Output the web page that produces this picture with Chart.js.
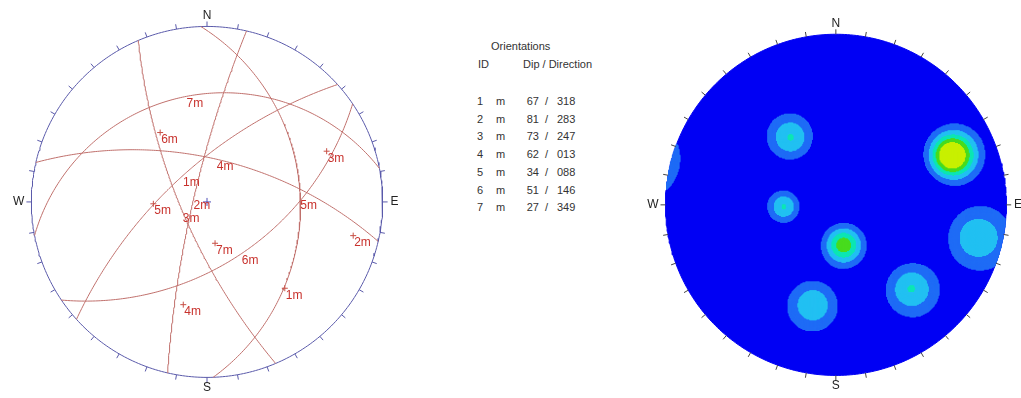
<!DOCTYPE html>
<html>
<head>
<meta charset="utf-8">
<script src="https://cdn.jsdelivr.net/npm/chart.js@4.4.0/dist/chart.umd.min.js"></script>
<style>
body { margin:0; background:#fff; width:1021px; height:398px; overflow:hidden; font-family:"Liberation Sans", Arial, sans-serif; }
#left { position:absolute; left:0; top:0; }
#right { position:absolute; left:640px; top:0; }
#table { position:absolute; left:0; top:0; color:#333; font-size:11px; }
#table div { position:absolute; white-space:nowrap; line-height:14px; height:14px; }
</style>
</head>
<body>
<canvas id="left" width="415" height="398"></canvas>
<div id="table"></div>
<canvas id="right" width="381" height="398"></canvas>
<script>
// Orientation sets (table)
var setIds = [1, 2, 3, 4, 5, 6, 7];
var setTypes = ['m', 'm', 'm', 'm', 'm', 'm', 'm'];
var dips = [67, 81, 73, 62, 34, 51, 27];
var dipDirs = [318, 283, 247, 13, 88, 146, 349];
// pole concentrations: peak density and spread (deg)
var poleDensity = [3.05, 2.9, 7.07, 2.9, 3.05, 3.05, 4.6];
var poleSpread = [8.2, 8.3, 6.6, 8.3, 6.4, 8.2, 8.1];
var contourLevels = [1, 2, 3, 4, 5];
var contourColors = ['#1f6cf6', '#22c0f2', '#0ce6b4', '#48dc1e', '#c8f000'];
var compass = ['N', 'E', 'S', 'W'];
var tickAngles = [];
for (var a = 0; a < 360; a += 10) tickAngles.push(a);

function rad(d) { return d * Math.PI / 180; }
function lineVec(trend, plunge) {
    return [Math.sin(rad(trend)) * Math.cos(rad(plunge)), Math.cos(rad(trend)) * Math.cos(rad(plunge)), Math.sin(rad(plunge))];
}
// lower hemisphere, equal angle
function project(v) {
    var s = v[2] < 0 ? -1 : 1;
    return { x: s * v[0] / (1 + s * v[2]), y: s * v[1] / (1 + s * v[2]) };
}
function greatCircle(dip, dir) {
    var pts = [];
    var st = [Math.sin(rad(dir - 90)), Math.cos(rad(dir - 90)), 0];
    var d = lineVec(dir, dip);
    for (var t = 0; t <= 180; t += 1) {
        var c = Math.cos(rad(t)), sn = Math.sin(rad(t));
        pts.push(project([c * st[0] + sn * d[0], c * st[1] + sn * d[1], c * st[2] + sn * d[2]]));
    }
    return pts;
}
function circlePts(r) {
    var pts = [];
    for (var a = 0; a <= 360; a += 1) pts.push({ x: r * Math.sin(rad(a)), y: r * Math.cos(rad(a)) });
    return pts;
}
function tickPts(R) {
    // tick is 5px long, starting at the primitive circle
    var r = 1 + 2.5 / R;
    return tickAngles.map(function (a) { return { x: r * Math.sin(rad(a)), y: r * Math.cos(rad(a)) }; });
}
function compassTexts(R, off) {
    return compass.map(function (c, i) {
        var a = i * 90, r = 1 + off[i] / R;
        return { x: r * Math.sin(rad(a)), y: r * Math.cos(rad(a)), text: c, color: '#222', align: 'center', dy: 0 };
    });
}

var poles = dips.map(function (d, i) { return project(lineVec(dipDirs[i] + 180, 90 - d)); });
var dipPts = dips.map(function (d, i) { return project(lineVec(dipDirs[i], d)); });

// text plugin: draws labels at data coordinates
var textPlugin = {
    id: 'texts',
    afterDatasetsDraw: function (chart, args, opts) {
        var ctx = chart.ctx;
        var sx = chart.scales.x, sy = chart.scales.y;
        ctx.save();
        ctx.font = opts.font;
        ctx.textBaseline = 'middle';
        (opts.items || []).forEach(function (t) {
            ctx.fillStyle = t.color;
            ctx.textAlign = t.align;
            ctx.fillText(t.text, sx.getPixelForValue(t.x) + (t.dx || 0), sy.getPixelForValue(t.y) + (t.dy || 0));
        });
        ctx.restore();
    }
};

// ---------------- left: great circles ----------------
var RL = 180;
var leftDatasets = [];
leftDatasets.push({ data: circlePts(1), showLine: true, borderColor: '#5a5aaa', borderWidth: 1, pointRadius: 0, order: 3 });
leftDatasets.push({ data: tickPts(RL), pointStyle: 'line', pointRadius: 2.5, pointBorderColor: '#5a5aaa', pointBorderWidth: 1,
    pointRotation: tickAngles.map(function (a) { return a - 90; }), order: 3 });
dips.forEach(function (d, i) {
    leftDatasets.push({ data: greatCircle(d, dipDirs[i]), showLine: true, borderColor: 'rgb(192,112,108)', borderWidth: 1, pointRadius: 0, order: 2 });
});
leftDatasets.push({ data: poles, pointStyle: 'cross', pointRadius: 3, pointBorderColor: 'rgb(200,80,70)', pointBorderWidth: 1, order: 1 });
leftDatasets.push({ data: [{ x: 0, y: 0 }], pointStyle: 'cross', pointRadius: 4, pointBorderColor: '#5050b8', pointBorderWidth: 1, order: 1 });

var leftTexts = compassTexts(RL, [11, 12, 11, 13]);
setIds.forEach(function (id, i) {
    var lbl = id + setTypes[i];
    leftTexts.push({ x: poles[i].x, y: poles[i].y, text: lbl, color: '#c8322d', align: 'left', dx: 1, dy: 7 });
    leftTexts.push({ x: dipPts[i].x, y: dipPts[i].y, text: lbl, color: '#c8322d', align: 'left', dx: 0, dy: 7 });
});

var baseOptions = function (R, cx, cy, w, h, texts) {
    return {
        responsive: false,
        animation: false,
        devicePixelRatio: 1,
        events: [],
        layout: { padding: 0 },
        scales: {
            x: { type: 'linear', display: false, min: -cx / R, max: (w - cx) / R },
            y: { type: 'linear', display: false, min: (cy - h) / R, max: cy / R }
        },
        plugins: {
            legend: { display: false },
            tooltip: { enabled: false },
            texts: { font: '12px "Liberation Sans", Arial, sans-serif', items: texts }
        }
    };
};

new Chart(document.getElementById('left'), {
    type: 'scatter',
    data: { datasets: leftDatasets },
    options: baseOptions(RL, 207, 202, 415, 398, leftTexts),
    plugins: [textPlugin]
});

// ---------------- table ----------------
var table = document.getElementById('table');
function addText(txt, left, cy, width, align) {
    var el = document.createElement('div');
    el.textContent = txt;
    el.style.left = left + 'px';
    el.style.top = (cy - 7) + 'px';
    if (width) { el.style.width = width + 'px'; el.style.textAlign = align; }
    table.appendChild(el);
}
addText('Orientations', 491, 46);
addText('ID', 478, 64);
addText('Dip / Direction', 523, 64);
setIds.forEach(function (id, i) {
    var cy = 101 + i * 17.7;
    addText(String(id), 463, cy, 20, 'right');
    addText(setTypes[i], 496, cy);
    addText(String(dips[i]), 519, cy, 20, 'right');
    addText('/', 545, cy);
    addText(('00' + dipDirs[i]).slice(-3), 557, cy);
});

// ---------------- right: pole density contours ----------------
var RR = 175;
var poleVecs = dips.map(function (d, i) { return lineVec(dipDirs[i] + 180, 90 - d); });
var cells = contourLevels.map(function () { return []; });
for (var ix = -RR; ix < RR; ix++) {
    for (var iy = -RR; iy < RR; iy++) {
        var gx = (ix + 0.5) / RR, gy = (iy + 0.5) / RR;
        var r2 = gx * gx + gy * gy;
        if (r2 > 1) continue;
        var v = [2 * gx / (1 + r2), 2 * gy / (1 + r2), (1 - r2) / (1 + r2)];
        var dens = 0;
        for (var i = 0; i < poleVecs.length; i++) {
            var p = poleVecs[i];
            var c = Math.min(1, Math.abs(v[0] * p[0] + v[1] * p[1] + v[2] * p[2]));
            var phi = Math.acos(c), sg = rad(poleSpread[i]);
            dens += poleDensity[i] * Math.exp(-phi * phi / (2 * sg * sg));
        }
        var lev = 0;
        contourLevels.forEach(function (L) { if (dens >= L) lev++; });
        if (lev > 0) cells[lev - 1].push({ x: gx, y: gy });
    }
}

var rightDatasets = [];
rightDatasets.push({ data: circlePts(1), showLine: true, fill: 'shape', backgroundColor: '#0000f4', borderColor: '#0000f4', borderWidth: 1, pointRadius: 0, order: 10 });
cells.forEach(function (pts, i) {
    rightDatasets.push({ data: pts, pointStyle: 'rect', pointRadius: 1.25, pointBorderWidth: 0, pointBackgroundColor: contourColors[i], order: 9 - i });
});
rightDatasets.push({ data: tickPts(RR), pointStyle: 'line', pointRadius: 2.5, pointBorderColor: '#444', pointBorderWidth: 1,
    pointRotation: tickAngles.map(function (a) { return a - 90; }), order: 1 });

new Chart(document.getElementById('right'), {
    type: 'scatter',
    data: { datasets: rightDatasets },
    options: baseOptions(RR, 196, 205, 381, 398, compassTexts(RR, [11, 12, 11, 13])),
    plugins: [textPlugin]
});
</script>
</body>
</html>
